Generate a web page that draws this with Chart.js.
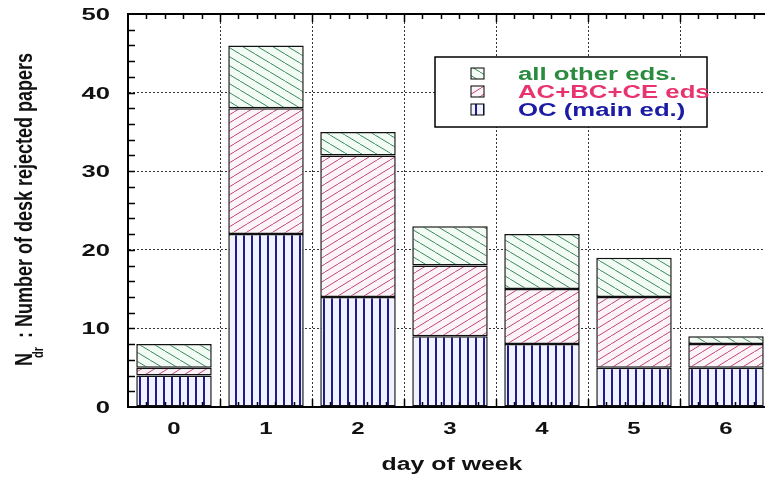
<!DOCTYPE html>
<html>
<head>
<meta charset="utf-8">
<script src="https://cdn.jsdelivr.net/npm/chart.js@4/dist/chart.umd.min.js"></script>
<style>
  html, body { margin: 0; padding: 0; background: #fff; overflow: hidden; width: 765px; height: 479px; }
  canvas { display: block; }
</style>
</head>
<body>
<canvas id="deskChart" width="780" height="479"></canvas>
<script>
/* ---------- data ---------- */
const days = ["0", "1", "2", "3", "4", "5", "6"];
const ocMain = [4, 22, 14, 9, 8, 5, 5];        // OC (main ed.)
const acBcCe = [1, 16, 18, 9, 7, 9, 3];        // AC+BC+CE eds
const otherEds = [3, 8, 3, 5, 7, 5, 1];        // all other eds.
const yTicks = [0, 10, 20, 30, 40, 50];

const FONT = "'Liberation Sans', Arial, sans-serif";

/* ---------- hatch patterns ---------- */
function hatch(kind, bg, fg, w, h, lw) {
  const c = document.createElement("canvas");
  c.width = w; c.height = h;
  const g = c.getContext("2d");
  g.fillStyle = bg;
  g.fillRect(0, 0, w, h);
  g.strokeStyle = fg;
  g.lineWidth = lw;
  g.beginPath();
  if (kind === "v") {
    g.moveTo(w / 2, 0); g.lineTo(w / 2, h);
  } else {
    for (const k of [-w, 0, w]) {
      if (kind === "/") { g.moveTo(k, h); g.lineTo(k + w, 0); }
      else { g.moveTo(k, 0); g.lineTo(k + w, h); }
    }
  }
  g.stroke();
  return g.createPattern(c, "repeat");
}

const patOC = hatch("v", "#f2f2ff", "#1c1c8c", 8, 8, 2);
const patAC = hatch("/", "#fdf4f8", "#c2457e", 13, 8, 1);
const patOther = hatch("\\", "#f3fbf5", "#3a8a5c", 15, 9, 1);

/* ---------- text helper (figure text is wide) ---------- */
function wideText(ctx, str, x, y, sx, size, align, color) {
  ctx.save();
  ctx.translate(x, y);
  ctx.scale(sx, 1);
  ctx.font = `bold ${size}px ${FONT}`;
  ctx.fillStyle = color || "#111";
  ctx.textAlign = align;
  ctx.textBaseline = "alphabetic";
  ctx.fillText(str, 0, 0);
  ctx.restore();
}

/* ---------- frame, ticks, labels, legend ---------- */
const decorations = {
  id: "decorations",
  afterDraw(chart) {
    const { ctx, chartArea: a, scales: { x, y } } = chart;
    const step = x.getPixelForValue(1) - x.getPixelForValue(0);
    ctx.save();

    // top frame line
    ctx.strokeStyle = "#000";
    ctx.lineWidth = 2;
    ctx.beginPath();
    ctx.moveTo(a.left - 1, a.top);
    ctx.lineTo(a.right, a.top);
    ctx.stroke();

    // y minor ticks every 2
    ctx.lineWidth = 1.5;
    ctx.beginPath();
    for (let v = 2; v < 50; v += 2) {
      const py = Math.round(y.getPixelForValue(v)) + 0.5;
      ctx.moveTo(a.left, py);
      ctx.lineTo(a.left + 7, py);
    }
    // x ticks top & bottom every 0.2 category
    for (let i = 0; i < days.length; i++) {
      const start = x.getPixelForValue(i) - step / 2;
      for (let k = 1; k <= 5; k++) {
        const px = Math.round(start + (k * step) / 5) + 0.5;
        const len = k === 5 ? 8 : 5;
        ctx.moveTo(px, a.top);
        ctx.lineTo(px, a.top + len);
        ctx.moveTo(px, a.bottom);
        ctx.lineTo(px, a.bottom - len);
      }
    }
    ctx.stroke();

    // tick labels
    yTicks.forEach((v) => {
      wideText(ctx, String(v), 110, y.getPixelForValue(v) + 6, 1.6, 16, "right");
    });
    days.forEach((d, i) => {
      wideText(ctx, d, x.getPixelForValue(i), 434, 1.45, 16.5, "center");
    });

    // axis titles
    wideText(ctx, "day of week", 452, 470, 1.38, 18, "center");

    ctx.save();
    ctx.translate(32, 366);
    ctx.rotate(-Math.PI / 2);
    ctx.scale(1, 1.38);
    ctx.fillStyle = "#111";
    ctx.textBaseline = "alphabetic";
    ctx.textAlign = "left";
    ctx.font = `bold 18px ${FONT}`;
    ctx.fillText("N", 0, 0);
    ctx.fillText(": Number of desk rejected papers", 28, 0);
    ctx.font = `bold 11px ${FONT}`;
    ctx.fillText("dr", 8, 8);
    ctx.restore();

    // legend box
    ctx.fillStyle = "#fff";
    ctx.fillRect(435, 57, 272, 70);
    ctx.strokeStyle = "#000";
    ctx.lineWidth = 1.5;
    ctx.strokeRect(435, 57, 272, 70);

    const items = [
      { label: "all other eds.", pat: patOther, color: "#2a8a3e", y: 80 },
      { label: "AC+BC+CE eds", pat: patAC, color: "#e8336e", y: 98 },
      { label: "OC (main ed.)", pat: patOC, color: "#1b1ba6", y: 116 },
    ];
    items.forEach((it) => {
      ctx.fillStyle = it.pat;
      ctx.fillRect(471, it.y - 12, 13, 11);
      ctx.strokeStyle = "#000";
      ctx.lineWidth = 1;
      ctx.strokeRect(471, it.y - 12, 13, 11);
      wideText(ctx, it.label, 518, it.y, 1.43, 18, "left", it.color);
    });

    ctx.restore();
  },
};

/* ---------- chart ---------- */
const barStyle = {
  borderColor: "#111",
  borderWidth: 1.5,
  borderSkipped: false,
  barPercentage: 0.82,
  categoryPercentage: 1,
};

new Chart(document.getElementById("deskChart"), {
  type: "bar",
  data: {
    labels: days,
    datasets: [
      { label: "OC (main ed.)", data: ocMain, backgroundColor: patOC, ...barStyle },
      { label: "AC+BC+CE eds", data: acBcCe, backgroundColor: patAC, ...barStyle },
      { label: "all other eds.", data: otherEds, backgroundColor: patOther, ...barStyle },
    ],
  },
  options: {
    responsive: false,
    animation: false,
    devicePixelRatio: 1,
    layout: { padding: { left: 0, top: 14, right: 8, bottom: 0 } },
    plugins: { legend: { display: false }, tooltip: { enabled: false } },
    scales: {
      x: {
        stacked: true,
        offset: true,
        grid: {
          offset: true,
          drawTicks: false,
          lineWidth: 1,
          color: (c) => (c.index === 0 ? "rgba(0,0,0,0)" : "#333"),
        },
        border: { color: "#000", width: 2, dash: [2, 2] },
        ticks: { display: false },
        afterFit: (s) => { s.height = 72; },
      },
      y: {
        stacked: true,
        min: 0,
        max: 50,
        ticks: { display: false, stepSize: 10 },
        grid: {
          drawTicks: false,
          lineWidth: 1,
          color: (c) =>
            c.tick && (c.tick.value === 0 || c.tick.value === 50) ? "rgba(0,0,0,0)" : "#333",
        },
        border: { color: "#000", width: 2, dash: [2, 2] },
        afterFit: (s) => { s.width = 128; },
      },
    },
  },
  plugins: [decorations],
});
</script>
</body>
</html>
